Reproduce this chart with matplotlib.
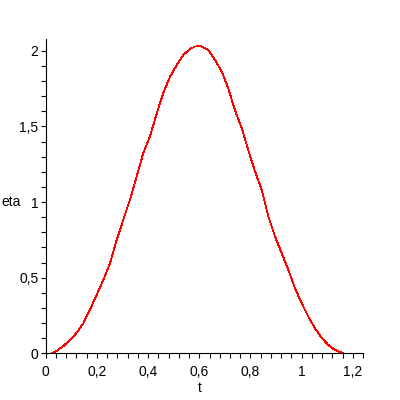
import matplotlib
matplotlib.use("Agg")
import matplotlib.pyplot as plt
from matplotlib.ticker import FixedLocator, FuncFormatter

# Data
t = [0.023, 0.043, 0.069, 0.095, 0.121, 0.147, 0.173, 0.199, 0.225, 0.251,
     0.277, 0.303, 0.329, 0.355, 0.381, 0.407, 0.434, 0.459, 0.486, 0.512,
     0.538, 0.564, 0.583, 0.603, 0.635, 0.661, 0.688, 0.713, 0.739, 0.766,
     0.791, 0.818, 0.844, 0.870, 0.896, 0.922, 0.948, 0.974, 1.000, 1.026,
     1.052, 1.078, 1.104, 1.130, 1.163]
eta = [0.0, 0.017, 0.048, 0.088, 0.136, 0.198, 0.29, 0.386, 0.485, 0.595,
       0.749, 0.882, 1.014, 1.168, 1.323, 1.433, 1.587, 1.72, 1.829, 1.907,
       1.973, 2.013, 2.028, 2.032, 2.006, 1.94, 1.862, 1.753, 1.609, 1.488,
       1.345, 1.201, 1.08, 0.903, 0.771, 0.661, 0.551, 0.43, 0.331, 0.242,
       0.165, 0.103, 0.055, 0.022, 0.0]

x_major = [0, 0.2, 0.4, 0.6, 0.8, 1.0, 1.2]
x_minor = [i * 0.04 for i in range(32)]
y_major = [0, 0.5, 1.0, 1.5, 2.0]
y_minor = [i * 0.1 for i in range(21)]

plt.rcParams['font.family'] = ['Liberation Sans', 'DejaVu Sans']

fig = plt.figure(figsize=(4, 4), dpi=100)
ax = fig.add_axes([45.7 / 400, (400 - 353.3) / 400, 317.4 / 400, 314.3 / 400])

ax.plot(t, eta, color='#ff0000', linewidth=0.6, antialiased=False)

ax.set_xlim(0, 1.24)
ax.set_ylim(0, 2.078)

for s in ['top', 'right']:
    ax.spines[s].set_visible(False)
for s in ['left', 'bottom']:
    ax.spines[s].set_linewidth(0.8)
    ax.spines[s].set_color('black')

def fmt(v, pos):
    s = ('%.1f' % v).rstrip('0').rstrip('.')
    return s.replace('.', ',')

ax.xaxis.set_major_locator(FixedLocator(x_major))
ax.xaxis.set_minor_locator(FixedLocator(x_minor))
ax.yaxis.set_major_locator(FixedLocator(y_major))
ax.yaxis.set_minor_locator(FixedLocator(y_minor))
ax.xaxis.set_major_formatter(FuncFormatter(fmt))
ax.yaxis.set_major_formatter(FuncFormatter(fmt))

ax.tick_params(axis='x', which='both', direction='out', length=3.5, width=0.8, pad=5, labelsize=10)
ax.tick_params(axis='y', which='both', direction='out', length=3.8, width=0.8, pad=1.5, labelsize=10)

ax.set_xlabel('t', fontsize=10, labelpad=4)
ax.xaxis.set_label_coords((200 - 45.7) / 317.4, -(388 - 353.3) / 314.3)
ax.xaxis.label.set_va('center')

fig.text(1 / 400, 1 - 201.7 / 400, 'eta', fontsize=10, ha='left', va='center')

fig.savefig('out.png', dpi=100, facecolor='white')
